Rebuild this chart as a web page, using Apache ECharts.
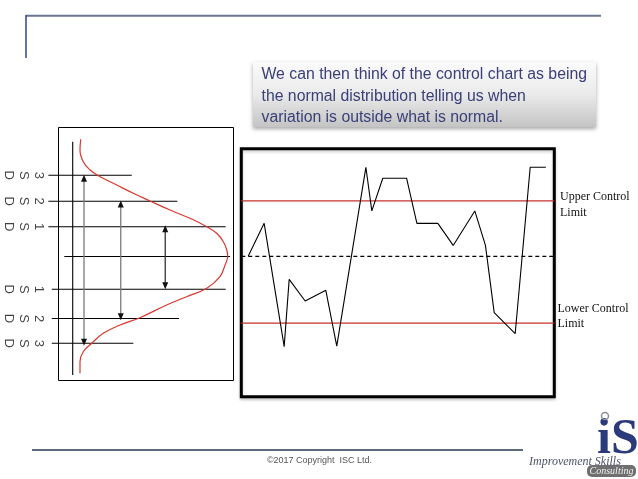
<!DOCTYPE html>
<html><head><meta charset="utf-8">
<script src="https://cdn.jsdelivr.net/npm/echarts@6/dist/echarts.min.js"></script>
<style>html,body{margin:0;padding:0;background:#fff}#c{width:638px;height:479px}</style>
</head><body><div id="c"></div>
<script>
// ---------- Control chart (right) ----------
const ctrlX = [2.2, 7.3, 13.7, 15.3, 20.4, 27.0, 30.5, 39.8, 41.7, 45.2, 52.8, 56.1, 62.8, 67.7, 74.6, 78.0, 80.8, 87.5, 92.3, 97.3];
const ctrlY = [56.6, 69.9, 20.2, 47.3, 38.6, 42.9, 20.4, 92.5, 74.9, 88.1, 88.1, 69.9, 69.9, 61.0, 74.9, 61.0, 33.9, 25.4, 92.5, 92.5];
const ctrlRange = [0, 100];
const centerLine = 56.6;
const upperLimit = 79.0;
const lowerLimit = 29.7;
const limitLabels = ['Upper Control\nLimit', 'Lower Control\nLimit'];

// ---------- Normal distribution (left) ----------
const sdLabels = ['3\nS\nD', '2\nS\nD', '1\nS\nD', '1\nS\nD', '2\nS\nD', '3\nS\nD'];
const sdLevels = [81.2, 55.3, 29.8, -32.8, -62.0, -86.8];
const sdLineStart = [-0.157, -0.157, -0.157, -0.135, -0.135, -0.135];
const sdLineEnd = [0.381, 0.675, 0.987, 0.987, 0.686, 0.391];
const meanLevel = 0;
const meanLineRange = [-0.054, 1.015];
const curveX = [0.052, 0.047, 0.068, 0.112, 0.165, 0.284, 0.391, 0.499, 0.628, 0.757, 0.865, 0.929, 0.972, 0.994, 1.0, 0.983, 0.950, 0.865, 0.735, 0.606, 0.434, 0.305, 0.197, 0.123, 0.068, 0.047, 0.047];
const curveY = [117.2, 106.5, 94.8, 86.5, 80.8, 71.5, 63.2, 55.5, 46.5, 38.2, 29.8, 23.2, 14.8, 6.5, 0, -8.5, -20.2, -31.8, -40.2, -48.5, -61.2, -68.5, -76.8, -86.8, -95.2, -105.2, -116.8];
const arrowX = [0.073, 0.31, 0.597];
const arrowTop = [78.2, 52.5, 27.8];
const arrowBottom = [-85.8, -60.2, -29.2];
const arrowColors = ['#7a7a7a', '#7a7a7a', '#333333'];
const baseAxisRange = [114.8, -118.5];
const labelX = -0.32;

// ---------- Slide texts ----------
const calloutText = 'We can then think of the control chart as being\nthe normal distribution telling us when\nvariation is outside what is normal.';
const footerText = '\u00A92017 Copyright  ISC Ltd.';

const chart = echarts.init(document.getElementById('c'), null, {renderer: 'canvas'});

function seg(data, color, width, type, z) {
  return {
    type: 'line', xAxisIndex: 1, yAxisIndex: 1, clip: false, z: z || 2, silent: true,
    data: data, symbol: 'none', lineStyle: {color: color, width: width, type: type || 'solid'}
  };
}
function seg0(data, color, width, type) {
  return {
    type: 'line', xAxisIndex: 0, yAxisIndex: 0, z: 2, silent: true,
    data: data, symbol: 'none', lineStyle: {color: color, width: width, type: type || 'solid'}
  };
}

const series = [];
// limit lines and center line
series.push(seg0([[ctrlRange[0], upperLimit], [ctrlRange[1], upperLimit]], '#c8302a', 1.2));
series.push(seg0([[ctrlRange[0], lowerLimit], [ctrlRange[1], lowerLimit]], '#c8302a', 1.2));
series.push(seg0([[ctrlRange[0], centerLine], [ctrlRange[1], centerLine]], '#000', 1.1, [4, 3]));
series.push({
  type: 'line', xAxisIndex: 0, yAxisIndex: 0, z: 3,
  data: ctrlX.map((x, i) => [x, ctrlY[i]]),
  symbol: 'none', lineStyle: {color: '#000', width: 1.1}
});
// SD lines
sdLevels.forEach((y, i) => series.push(seg([[sdLineStart[i], y], [sdLineEnd[i], y]], '#000', 1.1)));
series.push(seg([[meanLineRange[0], meanLevel], [meanLineRange[1], meanLevel]], '#000', 1.1));
series.push(seg([[0, baseAxisRange[0]], [0, baseAxisRange[1]]], '#000', 1.1));
// curve
series.push({
  type: 'line', xAxisIndex: 1, yAxisIndex: 1, z: 3, clip: false,
  data: curveX.map((x, i) => [x, curveY[i]]),
  smooth: 0.4, symbol: 'none', lineStyle: {color: '#d8382e', width: 1.2}
});
// arrows
arrowX.forEach((x, i) => series.push({
  type: 'line', xAxisIndex: 1, yAxisIndex: 1, z: 2, clip: false, silent: true,
  data: [
    {value: [x, arrowTop[i]], symbol: 'triangle', symbolSize: [6, 7], symbolRotate: 0},
    {value: [x, arrowBottom[i]], symbol: 'triangle', symbolSize: [6, 7], symbolRotate: 180}
  ],
  showSymbol: true,
  itemStyle: {color: '#111'},
  lineStyle: {color: arrowColors[i], width: 1.3}
}));
// SD labels
series.push({
  type: 'scatter', xAxisIndex: 1, yAxisIndex: 1, clip: false,
  symbolSize: 1, itemStyle: {color: 'transparent'},
  data: sdLevels.map((y, i) => ({value: [labelX, y], name: sdLabels[i]})),
  label: {
    show: true, position: 'inside', rotate: -90, formatter: p => p.name,
    color: '#111', fontFamily: 'Liberation Sans', fontSize: 13, lineHeight: 15
  }
});

const option = {
  animation: false,
  backgroundColor: '#ffffff',
  grid: [
    {left: 241.3, top: 148.7, width: 313, height: 248, show: true, borderColor: '#000', borderWidth: 3, backgroundColor: '#fff', outerBoundsMode: 'none', containLabel: false,
     shadowColor: 'rgba(0,0,0,0.18)', shadowBlur: 3, shadowOffsetY: 2},
    {left: 40, top: 127, width: 194, height: 254, show: false, outerBoundsMode: 'none', containLabel: false}
  ],
  xAxis: [
    {type: 'value', gridIndex: 0, min: ctrlRange[0], max: ctrlRange[1], show: false, splitLine: {show: false}},
    {type: 'value', gridIndex: 1, min: -0.211, max: 1.0406, show: false, splitLine: {show: false}}
  ],
  yAxis: [
    {type: 'value', gridIndex: 0, min: ctrlRange[0], max: ctrlRange[1], show: false, splitLine: {show: false}},
    {type: 'value', gridIndex: 1, min: -124.5, max: 129.5, show: false, splitLine: {show: false}}
  ],
  series: series,
  graphic: [
    // frame of the normal-distribution panel
    {type: 'rect', shape: {x: 58.5, y: 127.5, width: 175, height: 253}, style: {fill: 'none', stroke: '#000', lineWidth: 1}},
    // header lines
    {type: 'line', shape: {x1: 26, y1: 15.7, x2: 601, y2: 15.7}, style: {stroke: '#6b7590', lineWidth: 2}},
    {type: 'line', shape: {x1: 26, y1: 15, x2: 26, y2: 58}, style: {stroke: '#34448a', lineWidth: 1.5}},
    // callout box
    {type: 'rect', shape: {x: 253, y: 62, width: 343, height: 65},
     style: {fill: new echarts.graphic.LinearGradient(0, 0, 0, 1, [{offset: 0, color: '#fbfbfb'}, {offset: 0.5, color: '#eaeaea'}, {offset: 1, color: '#c4c4c4'}]),
             shadowBlur: 4, shadowColor: 'rgba(0,0,0,0.35)', shadowOffsetY: 2}},
    {type: 'text', style: {text: calloutText, x: 261.5, y: 96.5, textVerticalAlign: 'middle', textAlign: 'left',
      font: '15.8px "Liberation Sans", Arial, sans-serif', lineHeight: 21.5, fill: '#3b4078'}},
    // limit labels
    {type: 'text', style: {text: limitLabels[0], x: 560, y: 205, textVerticalAlign: 'middle',
      font: '12px "Liberation Serif", "Times New Roman", serif', lineHeight: 15.5, fill: '#111'}},
    {type: 'text', style: {text: limitLabels[1], x: 557.5, y: 316, textVerticalAlign: 'middle',
      font: '12px "Liberation Serif", "Times New Roman", serif', lineHeight: 15, fill: '#111'}},
    // footer
    {type: 'line', shape: {x1: 32, y1: 450, x2: 523, y2: 450}, style: {stroke: '#5c6a7e', lineWidth: 2}},
    {type: 'text', style: {text: footerText, x: 319.5, y: 460.5, textAlign: 'center', textVerticalAlign: 'middle',
      font: '9px "Liberation Sans", Arial, sans-serif', fill: '#555'}},
    // logo
    {type: 'text', style: {text: 'iS', x: 597, y: 440, textVerticalAlign: 'middle',
      font: 'bold 50px "Liberation Serif", "Times New Roman", serif', fill: '#2b3a7a'}},
    {type: 'circle', shape: {cx: 605, cy: 416, r: 3.5}, style: {fill: 'none', stroke: '#8a8f9c', lineWidth: 1.5}},
    {type: 'text', style: {text: 'Improvement Skills', x: 529, y: 462, textVerticalAlign: 'middle',
      font: 'italic 12px "Liberation Serif", "Times New Roman", serif', fill: '#4e5468'}},
    {type: 'rect', shape: {x: 587, y: 465, width: 49, height: 12, r: 5}, style: {fill: '#6f6f6f'}},
    {type: 'text', style: {text: 'Consulting', x: 611.5, y: 471, textAlign: 'center', textVerticalAlign: 'middle',
      font: 'italic 10px "Liberation Serif", serif', fill: '#f2f2f2'}}
  ]
};
chart.setOption(option);
</script>
</body></html>
